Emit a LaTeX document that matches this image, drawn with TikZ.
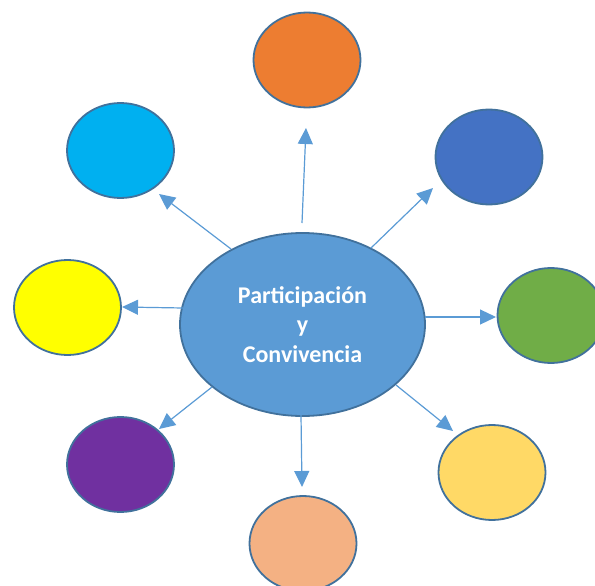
\documentclass[tikz,border=0pt]{standalone}
\usepackage{fontspec}
\setmainfont{Carlito}
\usetikzlibrary{shapes.geometric,arrows.meta}
\definecolor{cmain}{HTML}{5B9BD5}
\definecolor{cborder}{HTML}{41719C}
\definecolor{corange}{HTML}{ED7D31}
\definecolor{cdblue}{HTML}{4472C4}
\definecolor{cgreen}{HTML}{70AD47}
\definecolor{cgold}{HTML}{FFD966}
\definecolor{cpeach}{HTML}{F4B183}
\definecolor{cpurple}{HTML}{7030A0}
\definecolor{cyellow}{HTML}{FFFF00}
\definecolor{ccyan}{HTML}{00B0F0}
\tikzset{
  bubble/.style={ellipse, draw=cborder, line width=1.8pt, inner sep=0pt,
    minimum width=107pt, minimum height=95pt},
  hub/.style={ellipse, draw=cborder, line width=1.8pt, fill=cmain, inner sep=0pt,
    minimum width=245pt, minimum height=183pt, text=white, align=center,
    font=\bfseries\fontsize{24}{29.5}\selectfont},
  link/.style={draw=cmain, line width=1.2pt, -{Triangle[length=16pt,width=15pt]}}
}
\begin{document}
\begin{tikzpicture}[x=1pt,y=-1pt]
\useasboundingbox (0,0) rectangle (595,586);
\node[hub] (c) at (302.5,324.5) {Participación\\y\\Convivencia};
\node[bubble, fill=corange] (n1) at (307,60) {};
\node[bubble, fill=cdblue] (n2) at (489,157) {};
\node[bubble, fill=cgreen] (n3) at (551,315.5) {};
\node[bubble, fill=cgold] (n4) at (492,472.5) {};
\node[bubble, fill=cpeach] (n5) at (303,543.5) {};
\node[bubble, fill=cpurple] (n6) at (120.5,464.5) {};
\node[bubble, fill=cyellow] (n7) at (67.5,307.5) {};
\node[bubble, fill=ccyan] (n8) at (120.5,150.5) {};
\coordinate (s1) at (302,223); \coordinate (t1) at (306,128);
\coordinate (s2) at (371,248); \coordinate (t2) at (433,188);
\coordinate (s3) at (425,317); \coordinate (t3) at (496,317);
\coordinate (s4) at (396,385); \coordinate (t4) at (453,431);
\coordinate (s5) at (301,415); \coordinate (t5) at (302,487);
\coordinate (s6) at (212,387); \coordinate (t6) at (159,429);
\coordinate (s7) at (183,308); \coordinate (t7) at (122,307);
\coordinate (s8) at (231,249); \coordinate (t8) at (159,194);
\foreach \i in {1,...,8} { \draw[link] (s\i) -- (t\i); }
\end{tikzpicture}
\end{document}
